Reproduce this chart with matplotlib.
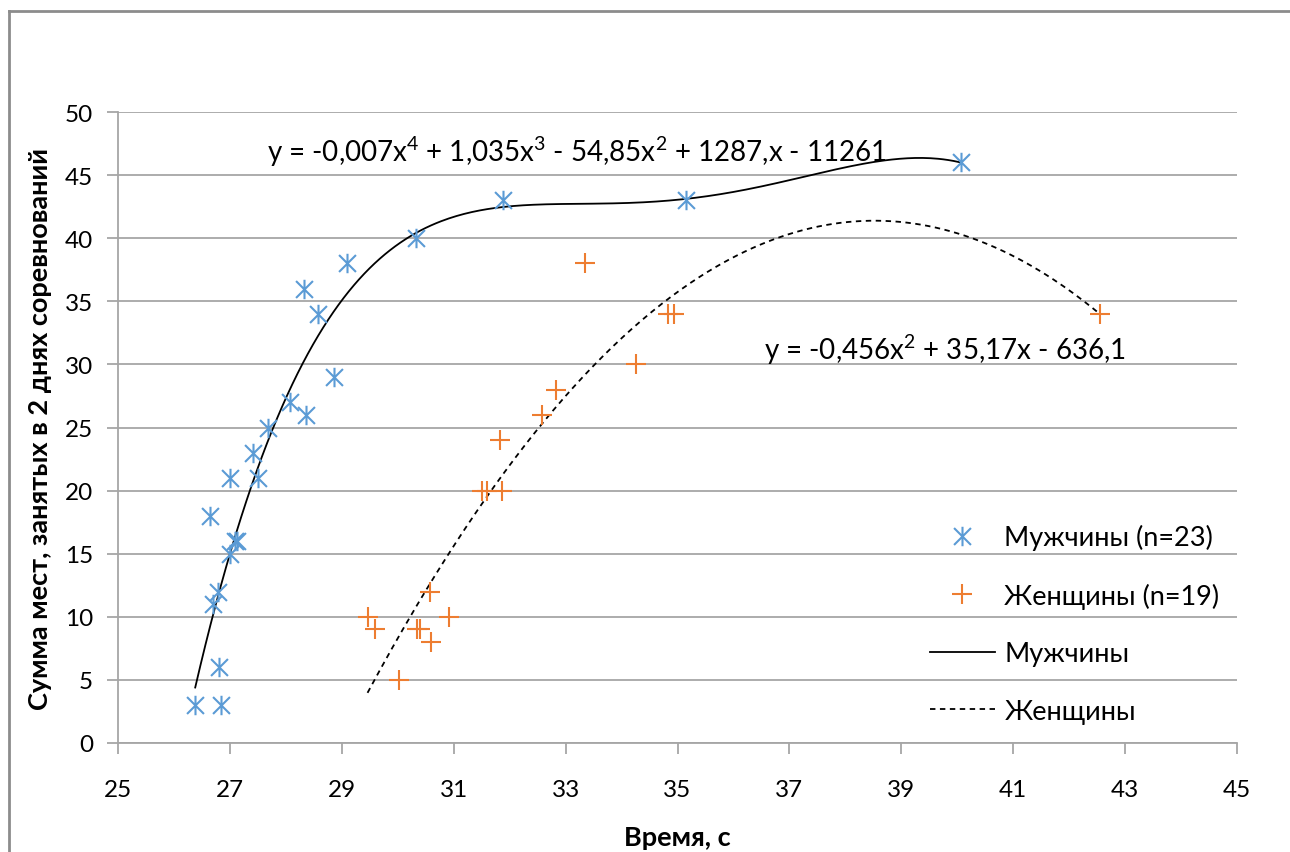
import numpy as np
import matplotlib
matplotlib.use("Agg")
import matplotlib.pyplot as plt
from matplotlib.path import Path
from matplotlib.lines import Line2D

plt.rcParams['font.family'] = ['Lato', 'DejaVu Sans']
plt.rcParams['mathtext.fontset'] = 'custom'
plt.rcParams['mathtext.rm'] = 'Lato'
plt.rcParams['mathtext.it'] = 'Lato:italic'

# data
men_x = [26.38, 26.84, 26.80, 26.70, 26.79, 27.00, 27.09, 27.12, 27.00, 26.64, 27.50,
         27.41, 27.68, 28.07, 28.36, 28.86, 28.57, 28.32, 29.09, 30.33, 31.88, 35.15, 40.07]
men_y = [3, 3, 6, 11, 12, 15, 16, 16, 21, 18, 21,
         23, 25, 27, 26, 29, 34, 36, 38, 40, 43, 43, 46]

women_x = [29.46, 29.60, 30.57, 30.92, 30.35, 30.40, 30.60, 30.03, 33.35, 34.83,
           34.93, 34.26, 32.83, 32.58, 31.83, 31.50, 31.60, 31.87, 42.55]
women_y = [10, 9, 12, 10, 9, 9, 8, 5, 38, 34,
           34, 30, 28, 26, 24, 20, 20, 20, 34]

men_eq = r"y = -0,007x$^{\mathrm{4}}$ + 1,035x$^{\mathrm{3}}$ - 54,85x$^{\mathrm{2}}$ + 1287,x - 11261"
women_eq = r"y = -0,456x$^{\mathrm{2}}$ + 35,17x - 636,1"

blue = "#5B9BD5"
orange = "#ED7D31"
grid_c = "#A6A6A6"

# excel-like star marker: X with a vertical bar
star = Path([(-1, -1), (1, 1), (-1, 1), (1, -1), (0, -1.15), (0, 1.15)],
            [Path.MOVETO, Path.LINETO, Path.MOVETO, Path.LINETO, Path.MOVETO, Path.LINETO])

fig = plt.figure(figsize=(12.9, 8.53), dpi=100)
ax = fig.add_axes([118 / 1290, 1 - 744 / 853, (1237 - 118) / 1290, (744 - 113) / 853])

ax.plot(men_x, men_y, linestyle="none", marker=star, markersize=14,
        markeredgecolor=blue, markerfacecolor="none", markeredgewidth=1.5,
        label="Мужчины (n=23)", zorder=3)
ax.plot(women_x, women_y, linestyle="none", marker="+", markersize=14,
        markeredgecolor=orange, markeredgewidth=1.5,
        label="Женщины (n=19)", zorder=3)

pm = np.polyfit(men_x, men_y, 4)
xm = np.linspace(min(men_x), max(men_x), 300)
ax.plot(xm, np.polyval(pm, xm), color="black", lw=1.3, label="Мужчины", zorder=2)

pw = np.polyfit(women_x, women_y, 2)
xw = np.linspace(min(women_x), max(women_x), 300)
ax.plot(xw, np.polyval(pw, xw), color="black", lw=1.3, linestyle=(0, (3, 2.5)),
        label="Женщины", zorder=2)

ax.set_xlim(25, 45)
ax.set_ylim(0, 50)
ax.set_xticks(np.arange(25, 46, 2))
ax.set_yticks(np.arange(0, 51, 5))
ax.yaxis.grid(True, color=grid_c, lw=1.3)
ax.set_axisbelow(True)
for s in ["top", "right"]:
    ax.spines[s].set_visible(False)
for s in ["left", "bottom"]:
    ax.spines[s].set_color(grid_c)
    ax.spines[s].set_linewidth(1.3)
ax.tick_params(axis="both", direction="out", length=8, width=1.3, color=grid_c,
               labelsize=17.5)
ax.tick_params(axis="x", pad=18)
ax.tick_params(axis="y", pad=10)

ax.set_xlabel("Время, с", fontsize=19.5, fontweight="bold", labelpad=18)
ax.set_ylabel("Сумма мест, занятых в 2 днях соревнований", fontsize=19.5,
              fontweight="bold", labelpad=9)

ax.text(27.66, 46.9, men_eq, fontsize=20, ha="left", va="center")
ax.text(36.55, 31.2, women_eq, fontsize=20, ha="left", va="center")

leg = ax.legend(loc="upper left", bbox_to_anchor=(0.7256, 0.347), frameon=False,
                fontsize=19.5, handlelength=2.4, handletextpad=0.35, labelspacing=1.2,
                borderaxespad=0, borderpad=0)

# outer chart border
fig.add_artist(Line2D([9 / 1290, 9 / 1290], [0, 1 - 12 / 853], color="#8C8C8C", lw=2,
                      transform=fig.transFigure))
fig.add_artist(Line2D([9 / 1290, 1], [1 - 12 / 853, 1 - 12 / 853], color="#8C8C8C", lw=2,
                      transform=fig.transFigure))

fig.savefig("out.png", dpi=100)
